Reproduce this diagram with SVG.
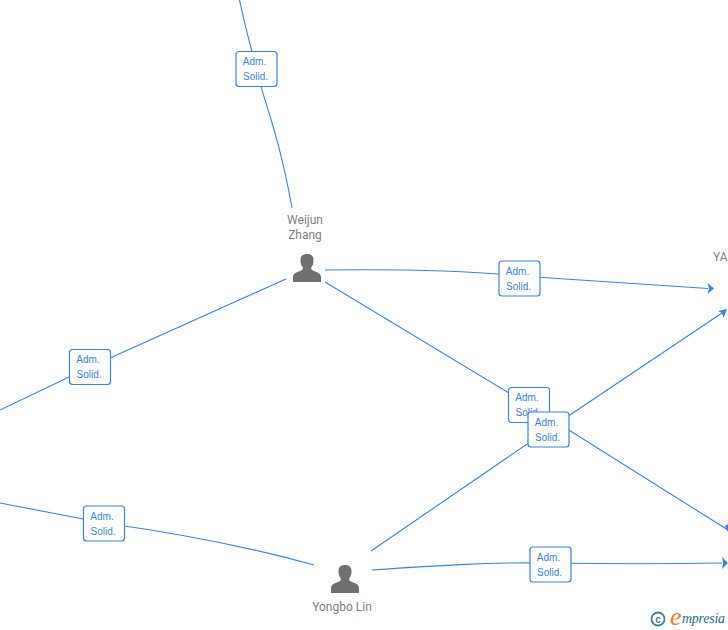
<svg xmlns="http://www.w3.org/2000/svg" width="728" height="630" viewBox="0 0 728 630">
<style>
.c{fill:none;stroke:#3c82e6;stroke-width:1.1}
.a{fill:#3c82e6;stroke:none}
.b{fill:#fff;stroke:#3c82e6;stroke-width:1.2}
.l{font-family:"Liberation Sans",Arial,sans-serif;font-size:10px;fill:#3c82e6;text-anchor:middle}
.n{font-family:"Roboto","Liberation Sans",sans-serif;font-size:12px;fill:#808080;text-anchor:middle}
.p{fill:#707070}
</style>
<defs>
<g id="person"><path class="p" d="M-14 14 V9 C-14 5 -9 4 -5 2 C-4 1 -4 0 -4.500 -1 C-6 -3 -6.500 -5 -6.500 -8 C-6.500 -12 -4 -14 0 -14 C4 -14 6.500 -12 6.500 -8 C6.500 -5 6 -3 4.500 -1 C4 0 4 1 5 2 C9 4 14 5 14 9 V14 Z"/></g>
<g id="lab"><rect class="b" x="-20.500" y="-17.500" width="41" height="35" rx="3"/><text class="l" x="-2" y="-4">Adm.</text><text class="l" x="-1" y="11">Solid.</text></g>
</defs>
<g id="connectors">
<path class="c" d="M239.500 0 C247 35 253 55 256.500 69 C263 100 278 130 292 208"/>
<path class="c" d="M325 270 C400 269 470 271 520 276 C590 281 650 285 708 288.500"/>
<path class="a" d="M714 288.500 L707.500 283 L709 288.500 L707.500 294 Z"/>
<path class="c" d="M325 282 L529 405 L728 530"/>
<path class="a" d="M728 532 L725 526 L728 524 Z"/>
<path class="c" d="M286 279 L90 367 L0 410"/>
<path class="c" d="M371 551 L549 429 L722 313"/>
<path class="a" d="M727 309 L718 311 L722 313 L723.500 318 Z"/>
<path class="c" d="M0 503 L104 523 C190 535 260 550 314 565"/>
<path class="c" d="M372 570 C430 566 490 562 551 563 C610 564 670 564 722 563"/>
<path class="a" d="M728 563 L722 557 L723 563 L722 569 Z"/>
</g>
<g id="l1"><use href="#lab" x="256.500" y="69"/></g>
<g id="l2"><use href="#lab" x="519.500" y="278.500"/></g>
<g id="l3"><use href="#lab" x="90" y="367"/></g>
<g id="l4"><use href="#lab" x="104" y="523.500"/></g>
<g id="l5"><use href="#lab" x="550.500" y="564.500"/></g>
<g id="l6"><use href="#lab" x="529" y="405"/></g>
<g id="l7"><use href="#lab" x="548.500" y="429.500"/></g>
<g id="weijun"><use href="#person" x="307" y="268"/><text class="n" x="305" y="224">Weijun</text><text class="n" x="305" y="239">Zhang</text></g>
<g id="yongbo"><use href="#person" x="345" y="579"/><text class="n" x="342" y="611">Yongbo Lin</text></g>
<g id="yag"><text class="n" x="713" y="261" style="text-anchor:start">YAG</text></g>
<g id="logo">
<circle cx="658" cy="619" r="6.500" fill="none" stroke="#3f7f92" stroke-width="1.800"/>
<text x="658" y="622.500" font-family="Liberation Sans, sans-serif" font-size="10" font-weight="bold" fill="#3f7f92" text-anchor="middle">c</text>
<text x="670" y="625" font-family="Liberation Serif, serif" font-style="italic" font-size="26" fill="#f08020">e</text>
<text x="682" y="623" font-family="Liberation Serif, serif" font-style="italic" font-size="14" textLength="43" fill="#2b6f8c">mpresia</text>
</g>
</svg>
